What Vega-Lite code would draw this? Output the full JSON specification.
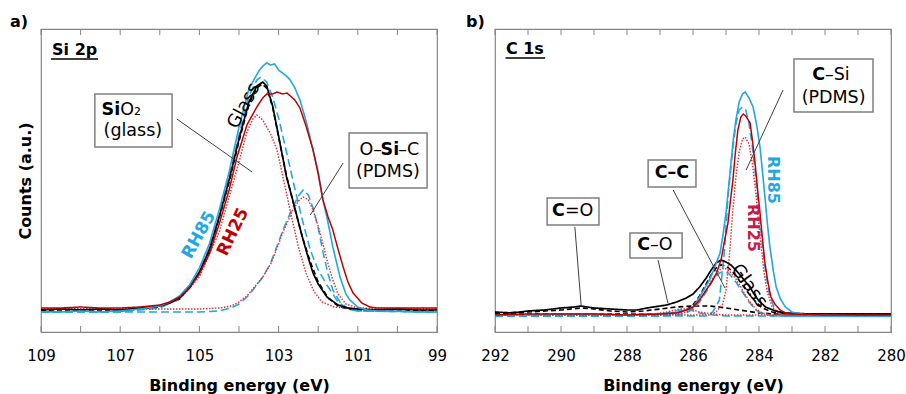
{
  "$schema": "https://vega.github.io/schema/vega-lite/v6.json",
  "padding": {"left": 9, "top": 12, "right": 5, "bottom": 5},
  "config": {
    "font": "DejaVu Sans",
    "view": {"stroke": "#858585", "strokeWidth": 1.2},
    "axis": {"grid": false, "domain": false, "labelColor": "#000", "titleColor": "#000", "labelFont": "DejaVu Sans", "titleFont": "DejaVu Sans"},
    "axisX": {"ticks": false, "labelFontSize": 15, "labelPadding": 16, "labelFlush": false, "labelOverlap": false, "titleFontSize": 16, "titleFontWeight": "bold", "titlePadding": 14},
    "axisY": {"ticks": false, "labels": false, "titleFontSize": 16, "titleFontWeight": "bold", "titlePadding": 8},
    "text": {"font": "DejaVu Sans"},
    "title": {"font": "DejaVu Sans", "color": "#000"}
  },
  "datasets": {
    "siRaw": [
      {"series":"Glass","eV":109,"counts":22},{"series":"Glass","eV":108.5,"counts":23},{"series":"Glass","eV":108,"counts":22},{"series":"Glass","eV":107.5,"counts":23},{"series":"Glass","eV":107,"counts":22},{"series":"Glass","eV":106.5,"counts":24},{"series":"Glass","eV":106.2,"counts":25},{"series":"Glass","eV":106,"counts":26},{"series":"Glass","eV":105.75,"counts":29},{"series":"Glass","eV":105.5,"counts":34},{"series":"Glass","eV":105.25,"counts":44},{"series":"Glass","eV":105,"counts":60},{"series":"Glass","eV":104.75,"counts":82},{"series":"Glass","eV":104.5,"counts":115},{"series":"Glass","eV":104.25,"counts":152},{"series":"Glass","eV":104,"counts":193},{"series":"Glass","eV":103.75,"counts":230},{"series":"Glass","eV":103.55,"counts":246},{"series":"Glass","eV":103.4,"counts":250},{"series":"Glass","eV":103.3,"counts":246},{"series":"Glass","eV":103.15,"counts":226},{"series":"Glass","eV":103,"counts":196},{"series":"Glass","eV":102.8,"counts":155},{"series":"Glass","eV":102.65,"counts":133},{"series":"Glass","eV":102.5,"counts":110},{"series":"Glass","eV":102.38,"counts":92},{"series":"Glass","eV":102.25,"counts":74},{"series":"Glass","eV":102.13,"counts":59},{"series":"Glass","eV":102,"counts":48},{"series":"Glass","eV":101.78,"counts":35},{"series":"Glass","eV":101.5,"counts":27},{"series":"Glass","eV":101.25,"counts":24},{"series":"Glass","eV":101,"counts":23},{"series":"Glass","eV":100.5,"counts":22},{"series":"Glass","eV":100,"counts":23},{"series":"Glass","eV":99.5,"counts":22},{"series":"Glass","eV":99,"counts":22},
      {"series":"RH85","eV":109,"counts":20},{"series":"RH85","eV":108.5,"counts":20},{"series":"RH85","eV":108,"counts":21},{"series":"RH85","eV":107.5,"counts":20},{"series":"RH85","eV":107,"counts":21},{"series":"RH85","eV":106.5,"counts":23},{"series":"RH85","eV":106,"counts":26},{"series":"RH85","eV":105.75,"counts":30},{"series":"RH85","eV":105.5,"counts":36},{"series":"RH85","eV":105.25,"counts":47},{"series":"RH85","eV":105,"counts":64},{"series":"RH85","eV":104.75,"counts":88},{"series":"RH85","eV":104.5,"counts":122},{"series":"RH85","eV":104.25,"counts":160},{"series":"RH85","eV":104,"counts":205},{"series":"RH85","eV":103.75,"counts":243},{"series":"RH85","eV":103.5,"counts":261},{"series":"RH85","eV":103.4,"counts":266},{"series":"RH85","eV":103.3,"counts":269},{"series":"RH85","eV":103.2,"counts":267},{"series":"RH85","eV":103.1,"counts":268},{"series":"RH85","eV":103,"counts":262},{"series":"RH85","eV":102.9,"counts":259},{"series":"RH85","eV":102.8,"counts":256},{"series":"RH85","eV":102.71,"counts":252},{"series":"RH85","eV":102.6,"counts":245},{"series":"RH85","eV":102.46,"counts":232},{"series":"RH85","eV":102.3,"counts":210},{"series":"RH85","eV":102.13,"counts":182},{"series":"RH85","eV":102,"counts":160},{"series":"RH85","eV":101.88,"counts":132},{"series":"RH85","eV":101.78,"counts":115},{"series":"RH85","eV":101.63,"counts":85},{"series":"RH85","eV":101.45,"counts":55},{"series":"RH85","eV":101.3,"counts":38},{"series":"RH85","eV":101.2,"counts":32},{"series":"RH85","eV":101,"counts":25},{"series":"RH85","eV":100.77,"counts":22},{"series":"RH85","eV":100.5,"counts":21},{"series":"RH85","eV":100,"counts":21},{"series":"RH85","eV":99.5,"counts":20},{"series":"RH85","eV":99,"counts":20},
      {"series":"RH25","eV":109,"counts":24},{"series":"RH25","eV":108.5,"counts":24},{"series":"RH25","eV":108,"counts":25},{"series":"RH25","eV":107.5,"counts":24},{"series":"RH25","eV":107,"counts":24},{"series":"RH25","eV":106.5,"counts":25},{"series":"RH25","eV":106,"counts":27},{"series":"RH25","eV":105.75,"counts":30},{"series":"RH25","eV":105.5,"counts":35},{"series":"RH25","eV":105.25,"counts":44},{"series":"RH25","eV":105,"counts":58},{"series":"RH25","eV":104.75,"counts":78},{"series":"RH25","eV":104.5,"counts":108},{"series":"RH25","eV":104.25,"counts":142},{"series":"RH25","eV":104.05,"counts":175},{"series":"RH25","eV":103.8,"counts":207},{"series":"RH25","eV":103.55,"counts":225},{"series":"RH25","eV":103.4,"counts":234},{"series":"RH25","eV":103.3,"counts":238},{"series":"RH25","eV":103.15,"counts":238},{"series":"RH25","eV":103.04,"counts":240},{"series":"RH25","eV":102.9,"counts":238},{"series":"RH25","eV":102.79,"counts":239},{"series":"RH25","eV":102.7,"counts":236},{"series":"RH25","eV":102.59,"counts":232},{"series":"RH25","eV":102.46,"counts":224},{"series":"RH25","eV":102.3,"counts":205},{"series":"RH25","eV":102.13,"counts":182},{"series":"RH25","eV":102,"counts":158},{"series":"RH25","eV":101.88,"counts":132},{"series":"RH25","eV":101.75,"counts":115},{"series":"RH25","eV":101.63,"counts":102},{"series":"RH25","eV":101.5,"counts":83},{"series":"RH25","eV":101.37,"counts":65},{"series":"RH25","eV":101.25,"counts":50},{"series":"RH25","eV":101.12,"counts":39},{"series":"RH25","eV":100.9,"counts":29},{"series":"RH25","eV":100.69,"counts":25},{"series":"RH25","eV":100.5,"counts":24},{"series":"RH25","eV":100,"counts":24},{"series":"RH25","eV":99.5,"counts":24},{"series":"RH25","eV":99,"counts":24}
    ],
    "siFits": [
      {"series":"Glass fit","eV":109,"counts":21},{"series":"Glass fit","eV":107,"counts":21},{"series":"Glass fit","eV":106,"counts":25},{"series":"Glass fit","eV":105.5,"counts":33},{"series":"Glass fit","eV":105,"counts":59},{"series":"Glass fit","eV":104.75,"counts":81},{"series":"Glass fit","eV":104.5,"counts":114},{"series":"Glass fit","eV":104.25,"counts":150},{"series":"Glass fit","eV":104,"counts":191},{"series":"Glass fit","eV":103.75,"counts":228},{"series":"Glass fit","eV":103.55,"counts":244},{"series":"Glass fit","eV":103.42,"counts":248},{"series":"Glass fit","eV":103.3,"counts":244},{"series":"Glass fit","eV":103.15,"counts":225},{"series":"Glass fit","eV":103,"counts":195},{"series":"Glass fit","eV":102.8,"counts":156},{"series":"Glass fit","eV":102.6,"counts":125},{"series":"Glass fit","eV":102.4,"counts":95},{"series":"Glass fit","eV":102.2,"counts":70},{"series":"Glass fit","eV":102,"counts":50},{"series":"Glass fit","eV":101.75,"counts":34},{"series":"Glass fit","eV":101.5,"counts":26},{"series":"Glass fit","eV":101.25,"counts":23},{"series":"Glass fit","eV":101,"counts":22},{"series":"Glass fit","eV":99,"counts":21},
      {"series":"RH85 fit 1","eV":109,"counts":20},{"series":"RH85 fit 1","eV":107,"counts":20},{"series":"RH85 fit 1","eV":106,"counts":24},{"series":"RH85 fit 1","eV":105.5,"counts":33},{"series":"RH85 fit 1","eV":105,"counts":60},{"series":"RH85 fit 1","eV":104.75,"counts":84},{"series":"RH85 fit 1","eV":104.5,"counts":117},{"series":"RH85 fit 1","eV":104.25,"counts":156},{"series":"RH85 fit 1","eV":104,"counts":197},{"series":"RH85 fit 1","eV":103.75,"counts":236},{"series":"RH85 fit 1","eV":103.55,"counts":252},{"series":"RH85 fit 1","eV":103.45,"counts":255},{"series":"RH85 fit 1","eV":103.3,"counts":250},{"series":"RH85 fit 1","eV":103.15,"counts":235},{"series":"RH85 fit 1","eV":103,"counts":214},{"series":"RH85 fit 1","eV":102.8,"counts":180},{"series":"RH85 fit 1","eV":102.6,"counts":145},{"series":"RH85 fit 1","eV":102.4,"counts":112},{"series":"RH85 fit 1","eV":102.2,"counts":82},{"series":"RH85 fit 1","eV":102,"counts":62},{"series":"RH85 fit 1","eV":101.78,"counts":47},{"series":"RH85 fit 1","eV":101.5,"counts":30},{"series":"RH85 fit 1","eV":101.25,"counts":23},{"series":"RH85 fit 1","eV":101,"counts":21},{"series":"RH85 fit 1","eV":99,"counts":20},
      {"series":"RH85 fit 2","eV":109,"counts":20},{"series":"RH85 fit 2","eV":105,"counts":20},{"series":"RH85 fit 2","eV":104.5,"counts":21},{"series":"RH85 fit 2","eV":104.2,"counts":24},{"series":"RH85 fit 2","eV":104,"counts":28},{"series":"RH85 fit 2","eV":103.8,"counts":35},{"series":"RH85 fit 2","eV":103.65,"counts":42},{"series":"RH85 fit 2","eV":103.4,"counts":55},{"series":"RH85 fit 2","eV":103.2,"counts":69},{"series":"RH85 fit 2","eV":103,"counts":90},{"series":"RH85 fit 2","eV":102.89,"counts":102},{"series":"RH85 fit 2","eV":102.75,"counts":115},{"series":"RH85 fit 2","eV":102.64,"counts":125},{"series":"RH85 fit 2","eV":102.5,"counts":136},{"series":"RH85 fit 2","eV":102.38,"counts":142},{"series":"RH85 fit 2","eV":102.25,"counts":137},{"series":"RH85 fit 2","eV":102.13,"counts":124},{"series":"RH85 fit 2","eV":102,"counts":104},{"series":"RH85 fit 2","eV":101.88,"counts":80},{"series":"RH85 fit 2","eV":101.75,"counts":58},{"series":"RH85 fit 2","eV":101.63,"counts":42},{"series":"RH85 fit 2","eV":101.45,"counts":30},{"series":"RH85 fit 2","eV":101.27,"counts":24},{"series":"RH85 fit 2","eV":101,"counts":21},{"series":"RH85 fit 2","eV":99,"counts":20},
      {"series":"RH25 fit 1","eV":109,"counts":23},{"series":"RH25 fit 1","eV":107,"counts":23},{"series":"RH25 fit 1","eV":106,"counts":26},{"series":"RH25 fit 1","eV":105.5,"counts":33},{"series":"RH25 fit 1","eV":105,"counts":55},{"series":"RH25 fit 1","eV":104.5,"counts":100},{"series":"RH25 fit 1","eV":104.25,"counts":135},{"series":"RH25 fit 1","eV":104,"counts":170},{"series":"RH25 fit 1","eV":103.8,"counts":200},{"series":"RH25 fit 1","eV":103.65,"counts":213},{"series":"RH25 fit 1","eV":103.55,"counts":217},{"series":"RH25 fit 1","eV":103.4,"counts":212},{"series":"RH25 fit 1","eV":103.2,"counts":198},{"series":"RH25 fit 1","eV":103.04,"counts":182},{"series":"RH25 fit 1","eV":102.89,"counts":155},{"series":"RH25 fit 1","eV":102.7,"counts":120},{"series":"RH25 fit 1","eV":102.5,"counts":85},{"series":"RH25 fit 1","eV":102.3,"counts":58},{"series":"RH25 fit 1","eV":102.1,"counts":40},{"series":"RH25 fit 1","eV":101.9,"counts":30},{"series":"RH25 fit 1","eV":101.6,"counts":25},{"series":"RH25 fit 1","eV":101,"counts":23},{"series":"RH25 fit 1","eV":99,"counts":23},
      {"series":"RH25 fit 2","eV":109,"counts":23},{"series":"RH25 fit 2","eV":105,"counts":23},{"series":"RH25 fit 2","eV":104.5,"counts":24},{"series":"RH25 fit 2","eV":104.2,"counts":26},{"series":"RH25 fit 2","eV":104,"counts":30},{"series":"RH25 fit 2","eV":103.8,"counts":36},{"series":"RH25 fit 2","eV":103.65,"counts":43},{"series":"RH25 fit 2","eV":103.4,"counts":55},{"series":"RH25 fit 2","eV":103.2,"counts":68},{"series":"RH25 fit 2","eV":103,"counts":88},{"series":"RH25 fit 2","eV":102.89,"counts":100},{"series":"RH25 fit 2","eV":102.75,"counts":112},{"series":"RH25 fit 2","eV":102.64,"counts":122},{"series":"RH25 fit 2","eV":102.5,"counts":131},{"series":"RH25 fit 2","eV":102.38,"counts":135},{"series":"RH25 fit 2","eV":102.25,"counts":132},{"series":"RH25 fit 2","eV":102.13,"counts":122},{"series":"RH25 fit 2","eV":102,"counts":106},{"series":"RH25 fit 2","eV":101.88,"counts":88},{"series":"RH25 fit 2","eV":101.75,"counts":68},{"series":"RH25 fit 2","eV":101.63,"counts":52},{"series":"RH25 fit 2","eV":101.5,"counts":38},{"series":"RH25 fit 2","eV":101.3,"counts":28},{"series":"RH25 fit 2","eV":101,"counts":24},{"series":"RH25 fit 2","eV":99,"counts":23}
    ],
    "cRaw": [
      {"series":"Glass","eV":292,"counts":20},{"series":"Glass","eV":291.5,"counts":19},{"series":"Glass","eV":291,"counts":21},{"series":"Glass","eV":290.5,"counts":22},{"series":"Glass","eV":290,"counts":24},{"series":"Glass","eV":289.6,"counts":25},{"series":"Glass","eV":289.4,"counts":26},{"series":"Glass","eV":289.2,"counts":25},{"series":"Glass","eV":289,"counts":24},{"series":"Glass","eV":288.5,"counts":23},{"series":"Glass","eV":288,"counts":22},{"series":"Glass","eV":287.7,"counts":22},{"series":"Glass","eV":287.4,"counts":24},{"series":"Glass","eV":287,"counts":26},{"series":"Glass","eV":286.8,"counts":27},{"series":"Glass","eV":286.5,"counts":30},{"series":"Glass","eV":286.2,"counts":34},{"series":"Glass","eV":286,"counts":38},{"series":"Glass","eV":285.8,"counts":45},{"series":"Glass","eV":285.6,"counts":54},{"series":"Glass","eV":285.45,"counts":62},{"series":"Glass","eV":285.3,"counts":69},{"series":"Glass","eV":285.15,"counts":72},{"series":"Glass","eV":285,"counts":70},{"series":"Glass","eV":284.85,"counts":67},{"series":"Glass","eV":284.7,"counts":62},{"series":"Glass","eV":284.5,"counts":54},{"series":"Glass","eV":284.3,"counts":46},{"series":"Glass","eV":284.15,"counts":38},{"series":"Glass","eV":284,"counts":31},{"series":"Glass","eV":283.8,"counts":25},{"series":"Glass","eV":283.5,"counts":21},{"series":"Glass","eV":283.2,"counts":19},{"series":"Glass","eV":283,"counts":19},{"series":"Glass","eV":282.5,"counts":18},{"series":"Glass","eV":282,"counts":18},{"series":"Glass","eV":281,"counts":18},{"series":"Glass","eV":280,"counts":18},
      {"series":"RH85","eV":292,"counts":17},{"series":"RH85","eV":291,"counts":17},{"series":"RH85","eV":290,"counts":18},{"series":"RH85","eV":289,"counts":18},{"series":"RH85","eV":288,"counts":17},{"series":"RH85","eV":287.5,"counts":18},{"series":"RH85","eV":287,"counts":18},{"series":"RH85","eV":286.5,"counts":19},{"series":"RH85","eV":286.2,"counts":22},{"series":"RH85","eV":286,"counts":25},{"series":"RH85","eV":285.8,"counts":35},{"series":"RH85","eV":285.5,"counts":52},{"series":"RH85","eV":285.35,"counts":64},{"series":"RH85","eV":285.18,"counts":79},{"series":"RH85","eV":285.1,"counts":95},{"series":"RH85","eV":285,"counts":119},{"series":"RH85","eV":284.92,"counts":145},{"series":"RH85","eV":284.85,"counts":169},{"series":"RH85","eV":284.78,"counts":192},{"series":"RH85","eV":284.7,"counts":212},{"series":"RH85","eV":284.6,"counts":230},{"series":"RH85","eV":284.5,"counts":238},{"series":"RH85","eV":284.42,"counts":240},{"series":"RH85","eV":284.3,"counts":234},{"series":"RH85","eV":284.18,"counts":225},{"series":"RH85","eV":284.07,"counts":207},{"series":"RH85","eV":283.97,"counts":185},{"series":"RH85","eV":283.9,"counts":162},{"series":"RH85","eV":283.82,"counts":135},{"series":"RH85","eV":283.75,"counts":110},{"series":"RH85","eV":283.67,"counts":85},{"series":"RH85","eV":283.57,"counts":62},{"series":"RH85","eV":283.48,"counts":45},{"series":"RH85","eV":283.35,"counts":33},{"series":"RH85","eV":283.2,"counts":25},{"series":"RH85","eV":283,"counts":20},{"series":"RH85","eV":282.88,"counts":19},{"series":"RH85","eV":282.5,"counts":17},{"series":"RH85","eV":282,"counts":17},{"series":"RH85","eV":281,"counts":16},{"series":"RH85","eV":280,"counts":16},
      {"series":"RH25","eV":292,"counts":17},{"series":"RH25","eV":291,"counts":18},{"series":"RH25","eV":290,"counts":18},{"series":"RH25","eV":289,"counts":18},{"series":"RH25","eV":288,"counts":17},{"series":"RH25","eV":287,"counts":18},{"series":"RH25","eV":286.5,"counts":19},{"series":"RH25","eV":286.2,"counts":22},{"series":"RH25","eV":286,"counts":25},{"series":"RH25","eV":285.8,"counts":32},{"series":"RH25","eV":285.6,"counts":42},{"series":"RH25","eV":285.45,"counts":49},{"series":"RH25","eV":285.3,"counts":58},{"series":"RH25","eV":285.15,"counts":72},{"series":"RH25","eV":285.05,"counts":90},{"series":"RH25","eV":284.94,"counts":109},{"series":"RH25","eV":284.87,"counts":130},{"series":"RH25","eV":284.79,"counts":152},{"series":"RH25","eV":284.72,"counts":178},{"series":"RH25","eV":284.64,"counts":202},{"series":"RH25","eV":284.55,"counts":215},{"series":"RH25","eV":284.48,"counts":218},{"series":"RH25","eV":284.4,"counts":216},{"series":"RH25","eV":284.27,"counts":209},{"series":"RH25","eV":284.2,"counts":192},{"series":"RH25","eV":284.12,"counts":169},{"series":"RH25","eV":284.05,"counts":145},{"series":"RH25","eV":283.97,"counts":119},{"series":"RH25","eV":283.9,"counts":95},{"series":"RH25","eV":283.82,"counts":69},{"series":"RH25","eV":283.73,"counts":50},{"series":"RH25","eV":283.64,"counts":35},{"series":"RH25","eV":283.5,"counts":27},{"series":"RH25","eV":283.36,"counts":22},{"series":"RH25","eV":283.2,"counts":19},{"series":"RH25","eV":283,"counts":18},{"series":"RH25","eV":282,"counts":17},{"series":"RH25","eV":281,"counts":17},{"series":"RH25","eV":280,"counts":17}
    ],
    "cFits": [
      {"series":"Glass fit","eV":292,"counts":18},{"series":"Glass fit","eV":287,"counts":18},{"series":"Glass fit","eV":286.5,"counts":19},{"series":"Glass fit","eV":286.2,"counts":22},{"series":"Glass fit","eV":286,"counts":27},{"series":"Glass fit","eV":285.8,"counts":36},{"series":"Glass fit","eV":285.6,"counts":48},{"series":"Glass fit","eV":285.45,"counts":57},{"series":"Glass fit","eV":285.3,"counts":64},{"series":"Glass fit","eV":285.15,"counts":67},{"series":"Glass fit","eV":285,"counts":66},{"series":"Glass fit","eV":284.85,"counts":62},{"series":"Glass fit","eV":284.7,"counts":56},{"series":"Glass fit","eV":284.5,"counts":47},{"series":"Glass fit","eV":284.3,"counts":38},{"series":"Glass fit","eV":284.1,"counts":30},{"series":"Glass fit","eV":283.9,"counts":24},{"series":"Glass fit","eV":283.6,"counts":20},{"series":"Glass fit","eV":283.3,"counts":18},{"series":"Glass fit","eV":280,"counts":18},
      {"series":"Glass fit 2","eV":292,"counts":19},{"series":"Glass fit 2","eV":291,"counts":20},{"series":"Glass fit 2","eV":290,"counts":22},{"series":"Glass fit 2","eV":289.4,"counts":24},{"series":"Glass fit 2","eV":289,"counts":23},{"series":"Glass fit 2","eV":288.5,"counts":21},{"series":"Glass fit 2","eV":288,"counts":20},{"series":"Glass fit 2","eV":287.5,"counts":21},{"series":"Glass fit 2","eV":287,"counts":23},{"series":"Glass fit 2","eV":286.5,"counts":25},{"series":"Glass fit 2","eV":286,"counts":26},{"series":"Glass fit 2","eV":285.5,"counts":26},{"series":"Glass fit 2","eV":285.2,"counts":25},{"series":"Glass fit 2","eV":284.8,"counts":23},{"series":"Glass fit 2","eV":284.4,"counts":21},{"series":"Glass fit 2","eV":284,"counts":19},{"series":"Glass fit 2","eV":283.5,"counts":18},{"series":"Glass fit 2","eV":280,"counts":18},
      {"series":"RH85 fit 1","eV":292,"counts":16},{"series":"RH85 fit 1","eV":285.6,"counts":16},{"series":"RH85 fit 1","eV":285.4,"counts":20},{"series":"RH85 fit 1","eV":285.2,"counts":32},{"series":"RH85 fit 1","eV":285.05,"counts":80},{"series":"RH85 fit 1","eV":284.94,"counts":135},{"series":"RH85 fit 1","eV":284.85,"counts":165},{"series":"RH85 fit 1","eV":284.79,"counts":185},{"series":"RH85 fit 1","eV":284.7,"counts":208},{"series":"RH85 fit 1","eV":284.6,"counts":222},{"series":"RH85 fit 1","eV":284.5,"counts":225},{"series":"RH85 fit 1","eV":284.4,"counts":222},{"series":"RH85 fit 1","eV":284.3,"counts":208},{"series":"RH85 fit 1","eV":284.2,"counts":185},{"series":"RH85 fit 1","eV":284.1,"counts":155},{"series":"RH85 fit 1","eV":284,"counts":120},{"series":"RH85 fit 1","eV":283.9,"counts":88},{"series":"RH85 fit 1","eV":283.8,"counts":60},{"series":"RH85 fit 1","eV":283.7,"counts":40},{"series":"RH85 fit 1","eV":283.55,"counts":25},{"series":"RH85 fit 1","eV":283.4,"counts":19},{"series":"RH85 fit 1","eV":283.2,"counts":16},{"series":"RH85 fit 1","eV":280,"counts":16},
      {"series":"RH85 fit 2","eV":292,"counts":16},{"series":"RH85 fit 2","eV":287,"counts":16},{"series":"RH85 fit 2","eV":286.5,"counts":17},{"series":"RH85 fit 2","eV":286.2,"counts":19},{"series":"RH85 fit 2","eV":286,"counts":23},{"series":"RH85 fit 2","eV":285.8,"counts":30},{"series":"RH85 fit 2","eV":285.6,"counts":40},{"series":"RH85 fit 2","eV":285.4,"counts":52},{"series":"RH85 fit 2","eV":285.2,"counts":59},{"series":"RH85 fit 2","eV":285.05,"counts":61},{"series":"RH85 fit 2","eV":284.9,"counts":58},{"series":"RH85 fit 2","eV":284.7,"counts":50},{"series":"RH85 fit 2","eV":284.5,"counts":40},{"series":"RH85 fit 2","eV":284.3,"counts":30},{"series":"RH85 fit 2","eV":284.1,"counts":22},{"series":"RH85 fit 2","eV":283.9,"counts":18},{"series":"RH85 fit 2","eV":283.6,"counts":16},{"series":"RH85 fit 2","eV":280,"counts":16},
      {"series":"RH85 fit 3","eV":292,"counts":16},{"series":"RH85 fit 3","eV":288,"counts":16},{"series":"RH85 fit 3","eV":287.2,"counts":17},{"series":"RH85 fit 3","eV":286.8,"counts":19},{"series":"RH85 fit 3","eV":286.4,"counts":22},{"series":"RH85 fit 3","eV":286.1,"counts":22},{"series":"RH85 fit 3","eV":285.8,"counts":19},{"series":"RH85 fit 3","eV":285.4,"counts":17},{"series":"RH85 fit 3","eV":285,"counts":16},{"series":"RH85 fit 3","eV":280,"counts":16},
      {"series":"RH25 fit 1","eV":292,"counts":17},{"series":"RH25 fit 1","eV":285.5,"counts":17},{"series":"RH25 fit 1","eV":285.3,"counts":20},{"series":"RH25 fit 1","eV":285.1,"counts":28},{"series":"RH25 fit 1","eV":285,"counts":42},{"series":"RH25 fit 1","eV":284.9,"counts":75},{"series":"RH25 fit 1","eV":284.8,"counts":119},{"series":"RH25 fit 1","eV":284.7,"counts":155},{"series":"RH25 fit 1","eV":284.6,"counts":180},{"series":"RH25 fit 1","eV":284.5,"counts":193},{"series":"RH25 fit 1","eV":284.42,"counts":195},{"series":"RH25 fit 1","eV":284.3,"counts":188},{"series":"RH25 fit 1","eV":284.2,"counts":168},{"series":"RH25 fit 1","eV":284.1,"counts":140},{"series":"RH25 fit 1","eV":284.04,"counts":119},{"series":"RH25 fit 1","eV":283.95,"counts":90},{"series":"RH25 fit 1","eV":283.85,"counts":60},{"series":"RH25 fit 1","eV":283.75,"counts":40},{"series":"RH25 fit 1","eV":283.6,"counts":25},{"series":"RH25 fit 1","eV":283.4,"counts":19},{"series":"RH25 fit 1","eV":283.2,"counts":17},{"series":"RH25 fit 1","eV":280,"counts":17},
      {"series":"RH25 fit 2","eV":292,"counts":17},{"series":"RH25 fit 2","eV":287,"counts":17},{"series":"RH25 fit 2","eV":286.5,"counts":18},{"series":"RH25 fit 2","eV":286.2,"counts":20},{"series":"RH25 fit 2","eV":286,"counts":24},{"series":"RH25 fit 2","eV":285.8,"counts":31},{"series":"RH25 fit 2","eV":285.6,"counts":42},{"series":"RH25 fit 2","eV":285.4,"counts":54},{"series":"RH25 fit 2","eV":285.2,"counts":62},{"series":"RH25 fit 2","eV":285.05,"counts":64},{"series":"RH25 fit 2","eV":284.9,"counts":61},{"series":"RH25 fit 2","eV":284.7,"counts":53},{"series":"RH25 fit 2","eV":284.5,"counts":42},{"series":"RH25 fit 2","eV":284.3,"counts":31},{"series":"RH25 fit 2","eV":284.1,"counts":23},{"series":"RH25 fit 2","eV":283.9,"counts":19},{"series":"RH25 fit 2","eV":283.6,"counts":17},{"series":"RH25 fit 2","eV":280,"counts":17},
      {"series":"RH25 fit 3","eV":292,"counts":17},{"series":"RH25 fit 3","eV":288,"counts":17},{"series":"RH25 fit 3","eV":287.2,"counts":18},{"series":"RH25 fit 3","eV":286.8,"counts":20},{"series":"RH25 fit 3","eV":286.4,"counts":23},{"series":"RH25 fit 3","eV":286.1,"counts":23},{"series":"RH25 fit 3","eV":285.8,"counts":20},{"series":"RH25 fit 3","eV":285.4,"counts":18},{"series":"RH25 fit 3","eV":285,"counts":17},{"series":"RH25 fit 3","eV":280,"counts":17}
    ]
  },
  "spacing": 17,
  "hconcat": [
    {
      "width": 396, "height": 303,
      "title": {"text": "a)", "anchor": "start", "frame": "group", "dx": -31, "offset": -17, "baseline": "bottom", "fontSize": 16, "fontWeight": "bold"},
      "encoding": {
        "x": {"field": "eV", "type": "quantitative", "scale": {"domain": [99, 109], "reverse": true, "nice": false, "zero": false}, "axis": {"values": [99, 101, 103, 105, 107, 109], "title": "Binding energy (eV)"}},
        "y": {"field": "counts", "type": "quantitative", "scale": {"domain": [0, 303], "nice": false}, "axis": {"title": "Counts (a.u.)"}}
      },
      "layer": [
        {"data": {"values": [{"eV":99,"counts":0,"counts2":6},{"eV":100,"counts":0,"counts2":6},{"eV":101,"counts":0,"counts2":6},{"eV":102,"counts":0,"counts2":6},{"eV":103,"counts":0,"counts2":6},{"eV":104,"counts":0,"counts2":6},{"eV":105,"counts":0,"counts2":6},{"eV":106,"counts":0,"counts2":6},{"eV":107,"counts":0,"counts2":6},{"eV":108,"counts":0,"counts2":6},{"eV":109,"counts":0,"counts2":6},{"eV":99,"counts":297,"counts2":303},{"eV":100,"counts":297,"counts2":303},{"eV":101,"counts":297,"counts2":303},{"eV":102,"counts":297,"counts2":303},{"eV":103,"counts":297,"counts2":303},{"eV":104,"counts":297,"counts2":303},{"eV":105,"counts":297,"counts2":303},{"eV":106,"counts":297,"counts2":303},{"eV":107,"counts":297,"counts2":303},{"eV":108,"counts":297,"counts2":303},{"eV":109,"counts":297,"counts2":303}]},
         "mark": {"type": "rule", "color": "#858585", "strokeWidth": 1},
         "encoding": {"y2": {"field": "counts2"}}},
        {"data": {"name": "siFits"}, "mark": {"type": "line", "clip": true},
         "encoding": {
           "color": {"field": "series", "type": "nominal", "legend": null, "scale": {"domain": ["Glass","Glass fit","Glass fit 2","RH85","RH85 fit 1","RH85 fit 2","RH85 fit 3","RH25","RH25 fit 1","RH25 fit 2","RH25 fit 3"], "range": ["#000000","#000000","#000000","#22a7e0","#22a7e0","#22a7e0","#22a7e0","#c00000","#e0303a","#e0303a","#e0303a"]}},
           "strokeDash": {"field": "series", "type": "nominal", "legend": null, "scale": {"domain": ["Glass","Glass fit","Glass fit 2","RH85","RH85 fit 1","RH85 fit 2","RH85 fit 3","RH25","RH25 fit 1","RH25 fit 2","RH25 fit 3"], "range": [[1,0],[5,3],[5,3],[1,0],[8,4],[8,4],[8,4],[1,0],[1.5,1.5],[1.5,1.5],[1.5,1.5]]}},
           "strokeWidth": {"field": "series", "type": "nominal", "legend": null, "scale": {"domain": ["Glass","Glass fit","Glass fit 2","RH85","RH85 fit 1","RH85 fit 2","RH85 fit 3","RH25","RH25 fit 1","RH25 fit 2","RH25 fit 3"], "range": [1.7,1.4,1.4,1.7,1.7,1.7,1.7,1.7,1.3,1.3,1.3]}}
         }},
        {"data": {"name": "siRaw"}, "mark": {"type": "line", "clip": true},
         "encoding": {
           "color": {"field": "series", "type": "nominal", "legend": null},
           "strokeDash": {"field": "series", "type": "nominal", "legend": null},
           "strokeWidth": {"field": "series", "type": "nominal", "legend": null}
         }},
        {"data": {"values": [{"eV": 105.57, "eV2": 103.67, "counts": 213, "counts2": 160}, {"eV": 101.37, "eV2": 102.2, "counts": 169, "counts2": 117}]},
         "mark": {"type": "rule", "color": "#404040", "strokeWidth": 1},
         "encoding": {"x2": {"field": "eV2"}, "y2": {"field": "counts2"}}},
        {"data": {"values": [{"eV": 107.64, "eV2": 105.69, "counts": 185, "counts2": 238}, {"eV": 101.22, "eV2": 99.25, "counts": 144, "counts2": 199}]},
         "mark": {"type": "rect", "fill": "#ffffff", "stroke": "#7f7f7f", "strokeWidth": 1.5},
         "encoding": {"x2": {"field": "eV2"}, "y2": {"field": "counts2"}}},
        {"data": {"values": [{"eV": 108.75, "eV2": 107.56, "counts": 273}]},
         "mark": {"type": "rule", "color": "#000000", "strokeWidth": 1.5},
         "encoding": {"x2": {"field": "eV2"}}},
        {"data": {"values": [{"eV": 108.72, "counts": 282, "label": "Si 2p"}]},
         "mark": {"type": "text", "align": "left", "baseline": "middle", "fontSize": 16, "fontWeight": "bold", "color": "#000"},
         "encoding": {"text": {"field": "label"}}},
        {"data": {"values": [{"eV": 107.0, "counts": 222, "label": "Si"}]},
         "mark": {"type": "text", "align": "right", "baseline": "middle", "fontSize": 17.5, "fontWeight": "bold", "color": "#000"},
         "encoding": {"text": {"field": "label"}}},
        {"data": {"values": [{"eV": 107.0, "counts": 222, "label": "O₂"}, {"eV": 99.98, "counts": 182, "label": "–C"}]},
         "mark": {"type": "text", "align": "left", "baseline": "middle", "fontSize": 17.5, "color": "#000"},
         "encoding": {"text": {"field": "label"}}},
        {"data": {"values": [{"eV": 100.19, "counts": 182, "label": "Si"}]},
         "mark": {"type": "text", "align": "center", "baseline": "middle", "fontSize": 17.5, "fontWeight": "bold", "color": "#000"},
         "encoding": {"text": {"field": "label"}}},
        {"data": {"values": [{"eV": 100.39, "counts": 182, "label": "O–"}]},
         "mark": {"type": "text", "align": "right", "baseline": "middle", "fontSize": 17.5, "color": "#000"},
         "encoding": {"text": {"field": "label"}}},
        {"data": {"values": [{"eV": 106.68, "counts": 201, "label": "(glass)"}, {"eV": 100.24, "counts": 160, "label": "(PDMS)"}]},
         "mark": {"type": "text", "align": "center", "baseline": "middle", "fontSize": 17.5, "color": "#000"},
         "encoding": {"text": {"field": "label"}}},
        {"data": {"values": [{"eV": 103.87, "counts": 226, "label": "Glass"}]},
         "mark": {"type": "text", "align": "center", "baseline": "middle", "fontSize": 18, "angle": -62, "color": "#000"},
         "encoding": {"text": {"field": "label"}}},
        {"data": {"values": [{"eV": 105.01, "counts": 97, "label": "RH85"}]},
         "mark": {"type": "text", "align": "center", "baseline": "middle", "fontSize": 17, "fontWeight": "bold", "angle": -61, "color": "#22a7e0"},
         "encoding": {"text": {"field": "label"}}},
        {"data": {"values": [{"eV": 104.15, "counts": 100, "label": "RH25"}]},
         "mark": {"type": "text", "align": "center", "baseline": "middle", "fontSize": 17, "fontWeight": "bold", "angle": -64, "color": "#c00000"},
         "encoding": {"text": {"field": "label"}}}
      ]
    },
    {
      "width": 396, "height": 303,
      "title": {"text": "b)", "anchor": "start", "frame": "group", "dx": -29, "offset": -17, "baseline": "bottom", "fontSize": 16, "fontWeight": "bold"},
      "encoding": {
        "x": {"field": "eV", "type": "quantitative", "scale": {"domain": [280, 292], "reverse": true, "nice": false, "zero": false}, "axis": {"values": [280, 282, 284, 286, 288, 290, 292], "title": "Binding energy (eV)"}},
        "y": {"field": "counts", "type": "quantitative", "scale": {"domain": [0, 303], "nice": false}, "axis": null}
      },
      "layer": [
        {"data": {"values": [{"eV":280,"counts":0,"counts2":6},{"eV":281,"counts":0,"counts2":6},{"eV":282,"counts":0,"counts2":6},{"eV":283,"counts":0,"counts2":6},{"eV":284,"counts":0,"counts2":6},{"eV":285,"counts":0,"counts2":6},{"eV":286,"counts":0,"counts2":6},{"eV":287,"counts":0,"counts2":6},{"eV":288,"counts":0,"counts2":6},{"eV":289,"counts":0,"counts2":6},{"eV":290,"counts":0,"counts2":6},{"eV":291,"counts":0,"counts2":6},{"eV":292,"counts":0,"counts2":6},{"eV":280,"counts":297,"counts2":303},{"eV":281,"counts":297,"counts2":303},{"eV":282,"counts":297,"counts2":303},{"eV":283,"counts":297,"counts2":303},{"eV":284,"counts":297,"counts2":303},{"eV":285,"counts":297,"counts2":303},{"eV":286,"counts":297,"counts2":303},{"eV":287,"counts":297,"counts2":303},{"eV":288,"counts":297,"counts2":303},{"eV":289,"counts":297,"counts2":303},{"eV":290,"counts":297,"counts2":303},{"eV":291,"counts":297,"counts2":303},{"eV":292,"counts":297,"counts2":303}]},
         "mark": {"type": "rule", "color": "#858585", "strokeWidth": 1},
         "encoding": {"y2": {"field": "counts2"}}},
        {"data": {"name": "cFits"}, "mark": {"type": "line", "clip": true},
         "encoding": {
           "color": {"field": "series", "type": "nominal", "legend": null},
           "strokeDash": {"field": "series", "type": "nominal", "legend": null},
           "strokeWidth": {"field": "series", "type": "nominal", "legend": null}
         }},
        {"data": {"name": "cRaw"}, "mark": {"type": "line", "clip": true},
         "encoding": {
           "color": {"field": "series", "type": "nominal", "legend": null},
           "strokeDash": {"field": "series", "type": "nominal", "legend": null},
           "strokeWidth": {"field": "series", "type": "nominal", "legend": null}
         }},
        {"data": {"values": [{"eV": 283.27, "eV2": 284.39, "counts": 242, "counts2": 162}, {"eV": 286.6, "eV2": 285.03, "counts": 142, "counts2": 44}, {"eV": 289.58, "eV2": 289.39, "counts": 105, "counts2": 27}, {"eV": 287.06, "eV2": 286.76, "counts": 72, "counts2": 29}]},
         "mark": {"type": "rule", "color": "#404040", "strokeWidth": 1},
         "encoding": {"x2": {"field": "eV2"}, "y2": {"field": "counts2"}}},
        {"data": {"values": [{"eV": 282.94, "eV2": 280.545, "counts": 220, "counts2": 273}, {"eV": 287.36, "eV2": 285.91, "counts": 145, "counts2": 172}, {"eV": 290.42, "eV2": 288.85, "counts": 107, "counts2": 134}, {"eV": 287.91, "eV2": 286.33, "counts": 74, "counts2": 99}]},
         "mark": {"type": "rect", "fill": "#ffffff", "stroke": "#7f7f7f", "strokeWidth": 1.5},
         "encoding": {"x2": {"field": "eV2"}, "y2": {"field": "counts2"}}},
        {"data": {"values": [{"eV": 291.68, "eV2": 290.48, "counts": 274}]},
         "mark": {"type": "rule", "color": "#000000", "strokeWidth": 1.5},
         "encoding": {"x2": {"field": "eV2"}}},
        {"data": {"values": [{"eV": 291.67, "counts": 283, "label": "C 1s"}]},
         "mark": {"type": "text", "align": "left", "baseline": "middle", "fontSize": 16, "fontWeight": "bold", "color": "#000"},
         "encoding": {"text": {"field": "label"}}},
        {"data": {"values": [{"eV": 282.0, "counts": 257, "label": "C"}, {"eV": 289.88, "counts": 121, "label": "C"}, {"eV": 287.3, "counts": 87, "label": "C"}]},
         "mark": {"type": "text", "align": "right", "baseline": "middle", "fontSize": 17.5, "fontWeight": "bold", "color": "#000"},
         "encoding": {"text": {"field": "label"}}},
        {"data": {"values": [{"eV": 282.0, "counts": 257, "label": "–Si"}, {"eV": 289.88, "counts": 121, "label": "=O"}, {"eV": 287.3, "counts": 87, "label": "–O"}]},
         "mark": {"type": "text", "align": "left", "baseline": "middle", "fontSize": 17.5, "color": "#000"},
         "encoding": {"text": {"field": "label"}}},
        {"data": {"values": [{"eV": 286.64, "counts": 159, "label": "C–C"}]},
         "mark": {"type": "text", "align": "center", "baseline": "middle", "fontSize": 17.5, "fontWeight": "bold", "color": "#000"},
         "encoding": {"text": {"field": "label"}}},
        {"data": {"values": [{"eV": 281.74, "counts": 234, "label": "(PDMS)"}]},
         "mark": {"type": "text", "align": "center", "baseline": "middle", "fontSize": 17.5, "color": "#000"},
         "encoding": {"text": {"field": "label"}}},
        {"data": {"values": [{"eV": 284.3, "counts": 46, "label": "Glass"}]},
         "mark": {"type": "text", "align": "center", "baseline": "middle", "fontSize": 18, "angle": 54, "color": "#000"},
         "encoding": {"text": {"field": "label"}}},
        {"data": {"values": [{"eV": 283.58, "counts": 152, "label": "RH85"}]},
         "mark": {"type": "text", "align": "center", "baseline": "middle", "fontSize": 16, "fontWeight": "bold", "angle": 90, "color": "#22a7e0"},
         "encoding": {"text": {"field": "label"}}},
        {"data": {"values": [{"eV": 284.18, "counts": 104, "label": "RH25"}]},
         "mark": {"type": "text", "align": "center", "baseline": "middle", "fontSize": 16, "fontWeight": "bold", "angle": 90, "color": "#c51a4a"},
         "encoding": {"text": {"field": "label"}}}
      ]
    }
  ]
}
